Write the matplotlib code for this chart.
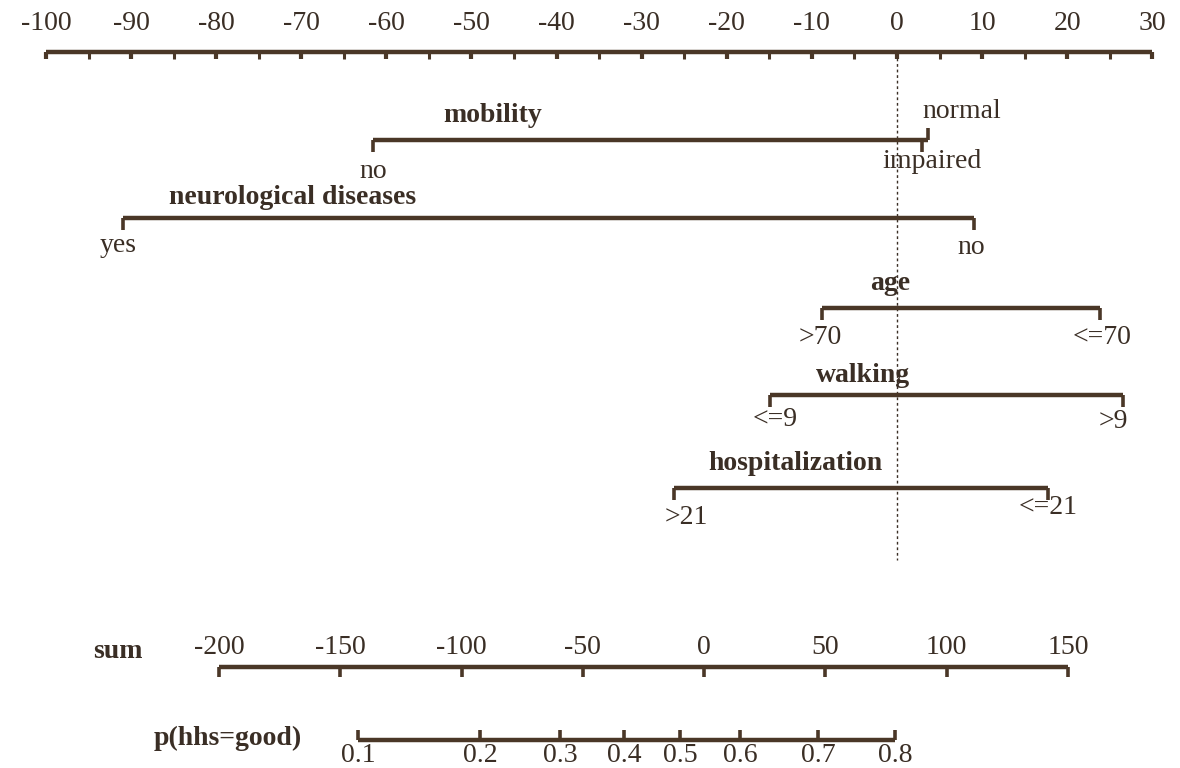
import numpy as np
import matplotlib
matplotlib.use("Agg")
import matplotlib.pyplot as plt

# points scale (top axis)
point_ticks = list(range(-100, 31, 10))

# factors: name, category labels, points for each category
mobility_cats = ["no", "impaired", "normal"]
mobility_pts = [-61.6, 2.9, 3.6]
neuro_cats = ["yes", "no"]
neuro_pts = [-91.0, 9.0]
age_cats = [">70", "<=70"]
age_pts = [-8.8, 23.8]
walking_cats = ["<=9", ">9"]
walking_pts = [-14.9, 26.6]
hosp_cats = [">21", "<=21"]
hosp_pts = [-26.2, 17.7]

# total points axis
sum_ticks = [-200, -150, -100, -50, 0, 50, 100, 150]

# probability axis: labels and the sum value each one sits at
prob_labels = ["0.1", "0.2", "0.3", "0.4", "0.5", "0.6", "0.7", "0.8"]
prob_sum = [-142.7, -92.4, -59.4, -33.1, -10.0, 14.8, 46.9, 78.6]

col = "#4a3727"
tcol = "#3a2e25"
plt.rcParams["font.family"] = ["Liberation Serif", "DejaVu Serif"]

fig = plt.figure(figsize=(11.8, 7.68), dpi=100)
ax = fig.add_axes([0, 0, 1, 1])
scale = 8.51
ax.set_xlim(-897 / scale, (1180 - 897) / scale)
ax.set_ylim(768, 0)
ax.axis("off")

lw = 3.2
fs = 20


def sum_to_pts(s):
    # sum -200 -> -79.67 pts, 150 -> 20.09 pts
    s = np.asarray(s, dtype=float)
    return -79.67 + (s + 200) * (20.09 + 79.67) / 350


# top axis
y0 = 52
ax.plot([-100, 30], [y0, y0], color=col, lw=lw, solid_capstyle="butt")
for v in range(-100, 31, 5):
    w = 3.0 if v % 10 == 0 else 2.2
    ax.plot([v, v], [y0, y0 + 7], color=col, lw=w, solid_capstyle="butt")
for v in point_ticks:
    ax.text(v, 24, str(v), ha="center", va="center", fontsize=fs, color=tcol)

# zero reference line
ax.plot([0, 0], [y0 + 6, 560], color=tcol, lw=1.0, ls=(0, (2, 2)))


def factor(name, name_x, name_y, pts, cats, bar_y, lab_pos, up=()):
    ax.plot([min(pts), max(pts)], [bar_y, bar_y], color=col, lw=lw,
            solid_capstyle="butt")
    for i, p in enumerate(pts):
        if i in up:
            ax.plot([p, p], [bar_y, bar_y - 12], color=col, lw=2.6,
                    solid_capstyle="butt")
        else:
            ax.plot([p, p], [bar_y, bar_y + 12], color=col, lw=2.6,
                    solid_capstyle="butt")
    for c, (lx, ly) in zip(cats, lab_pos):
        ax.text(lx, ly, c, ha="center", va="center", fontsize=fs, color=tcol)
    ax.text(name_x, name_y, name, ha="center", va="center", fontsize=fs,
            color=tcol, fontweight="bold")


factor("mobility", -47.5, 116, mobility_pts, mobility_cats, 140,
       [(mobility_pts[0], 172), (mobility_pts[1] + 1.2, 162),
        (mobility_pts[2] + 4.0, 112)], up=(2,))
factor("neurological diseases", -71.0, 197, neuro_pts, neuro_cats, 218,
       [(neuro_pts[0] - 0.5, 245), (neuro_pts[1] - 0.3, 247)])
factor("age", -0.8, 283, age_pts, age_cats, 308,
       [(age_pts[0] - 0.2, 337), (age_pts[1] + 0.3, 337)])
factor("walking", -4.0, 376, walking_pts, walking_cats, 395,
       [(walking_pts[0] + 0.6, 420), (walking_pts[1] - 1.2, 422)])
factor("hospitalization", -12.0, 463, hosp_pts, hosp_cats, 488,
       [(hosp_pts[0] + 1.4, 517), (hosp_pts[1] + 0.1, 508)])

# sum axis
ys = 667
sx = sum_to_pts(sum_ticks)
ax.plot([sx[0], sx[-1]], [ys, ys], color=col, lw=lw, solid_capstyle="butt")
for v, x in zip(sum_ticks, sx):
    ax.plot([x, x], [ys, ys + 10], color=col, lw=2.6, solid_capstyle="butt")
    ax.text(x, 648, str(v), ha="center", va="center", fontsize=fs, color=tcol)
ax.text(-91.5, 652, "sum", ha="center", va="center", fontsize=fs,
        color=tcol, fontweight="bold")

# probability axis
yp = 740
px = sum_to_pts(prob_sum)
ax.plot([px[0], px[-1]], [yp, yp], color=col, lw=lw, solid_capstyle="butt")
for lab, x in zip(prob_labels, px):
    ax.plot([x, x], [yp, yp - 10], color=col, lw=2.6, solid_capstyle="butt")
    ax.text(x, 755, lab, ha="center", va="center", fontsize=fs, color=tcol)
ax.text(-78.6, 738, "p(hhs=good)", ha="center", va="center", fontsize=fs,
        color=tcol, fontweight="bold")

fig.savefig("out.png", dpi=100, facecolor="white")
